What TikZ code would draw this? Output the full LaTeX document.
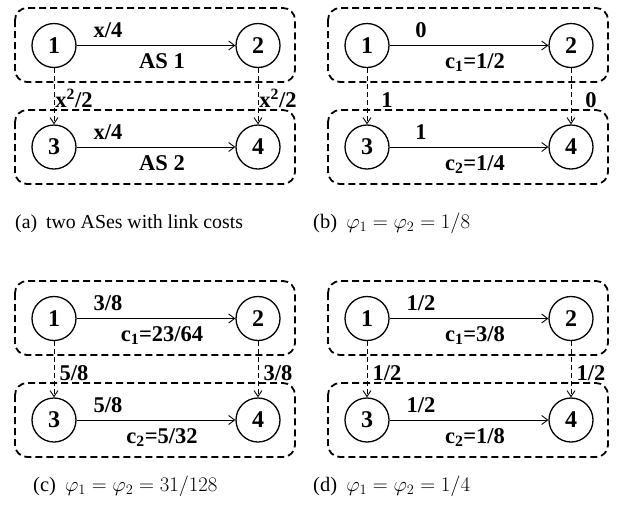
\documentclass[tikz,border=0pt]{standalone}
\usepackage[no-math]{fontspec}
\setmainfont{Liberation Serif}
\usetikzlibrary{arrows.meta}
\tikzset{
 nd/.style={circle, draw, line width=1.3pt, minimum size=44pt, inner sep=0pt, font=\fontsize{24}{26}\selectfont\bfseries},
 lbl/.style={font=\fontsize{22.5}{25}\selectfont\bfseries, inner sep=0pt, anchor=base},
 asbox/.style={draw, line width=1.8pt, dash pattern=on 7pt off 4pt, rounded corners=12pt},
 harr/.style={line width=0.9pt, -{Straight Barb[length=6pt,width=9pt]}},
 varr/.style={line width=0.9pt, dash pattern=on 5pt off 3pt, -{Straight Barb[length=6pt,width=8pt]}},
 captext/.style={font=\fontsize{20.5}{24}\selectfont, anchor=base west, inner sep=0pt}
}
\newcommand\drawpanel[9]{%
 \begin{scope}[shift={(#1,#2)}]
  \draw[asbox] (15,8) rectangle (295,82);
  \draw[asbox] (15,110) rectangle (295,184);
  \node[nd] (#3n1) at (54,45.5) {1};
  \node[nd] (#3n2) at (258,45.5) {2};
  \node[nd] (#3n3) at (54,147) {3};
  \node[nd] (#3n4) at (258,147) {4};
  \draw[harr] (#3n1) -- (#3n2);
  \draw[harr] (#3n3) -- (#3n4);
  \draw[varr] (#3n1) -- (#3n3);
  \draw[varr] (#3n2) -- (#3n4);
  \node[lbl] (#3t1) at (108,37) {#4};
  \node[lbl] (#3b1) at (162,68) {#5};
  \node[lbl] (#3t2) at (108,139) {#6};
  \node[lbl] (#3b2) at (162,170) {#7};
  \node[lbl] (#3vl) at (74,107) {#8};
  \node[lbl] (#3vr) at (278,107) {#9};
 \end{scope}}
\begin{document}
\begin{tikzpicture}[x=1pt,y=-1pt]
\useasboundingbox (0,0) rectangle (623,515);
\drawpanel{0}{0}{a}{x/4}{AS 1}{x/4}{AS 2}{x\textsuperscript{2}/2}{x\textsuperscript{2}/2}
\drawpanel{313}{0}{b}{0}{c\textsubscript{1}=1/2}{1}{c\textsubscript{2}=1/4}{1}{0}
\drawpanel{0}{273}{c}{3/8}{c\textsubscript{1}=23/64}{5/8}{c\textsubscript{2}=5/32}{5/8}{3/8}
\drawpanel{313}{273}{d}{1/2}{c\textsubscript{1}=3/8}{1/2}{c\textsubscript{2}=1/8}{1/2}{1/2}
\node[captext, font=\fontsize{19.8}{24}\selectfont] (capa) at (15,228) {(a)\hspace{0.45em}two ASes with link costs};
\node[captext] (capb) at (313,228) {(b)\hspace{0.45em}$\varphi_1=\varphi_2=1/8$};
\node[captext] (capc) at (33,491) {(c)\hspace{0.45em}$\varphi_1=\varphi_2=31/128$};
\node[captext] (capd) at (313,491) {(d)\hspace{0.45em}$\varphi_1=\varphi_2=1/4$};
\end{tikzpicture}
\end{document}
